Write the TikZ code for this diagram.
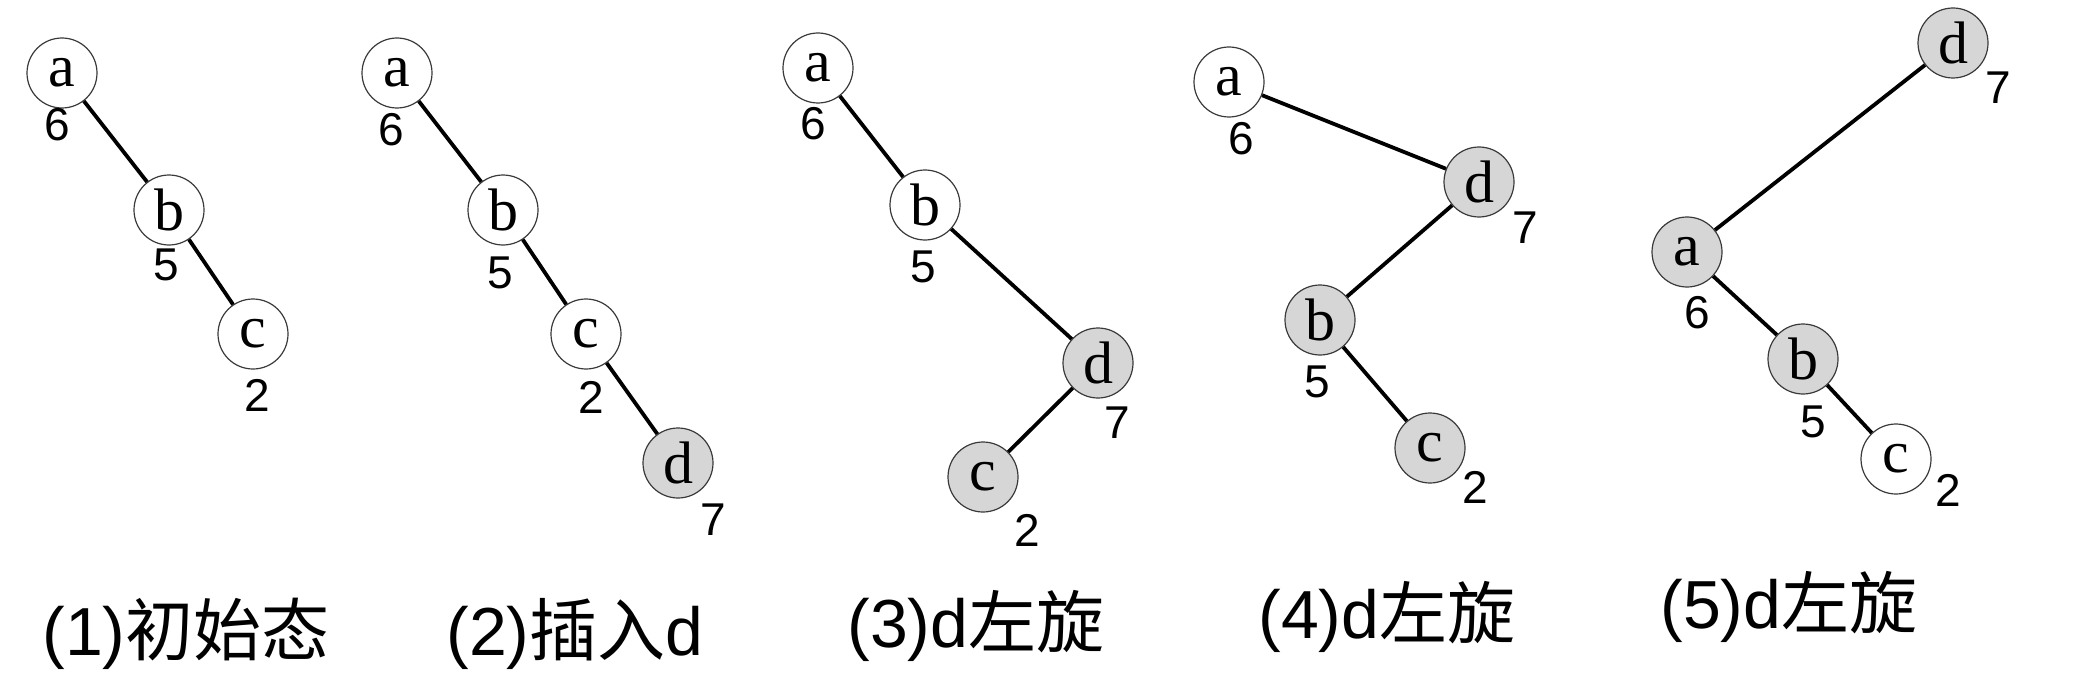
\documentclass[tikz,border=0pt]{standalone}
\usepackage{fontspec}
\setmainfont{Liberation Sans}
\newfontfamily\letterfont{Liberation Serif}
\newfontfamily\cjk{Noto Sans CJK SC}
\definecolor{nodegray}{HTML}{D6D6D6}
\definecolor{rimgray}{HTML}{3A3A3A}
\begin{document}
\begin{tikzpicture}[x=0.5pt,y=-0.5pt,
  tnode/.style={circle,draw=rimgray,line width=0.6pt,minimum size=35pt,inner sep=0pt,fill=white,font=\letterfont\fontsize{30}{30}\selectfont},
  gnode/.style={tnode,fill=nodegray},
  wlabel/.style={inner sep=0pt,font=\fontsize{23}{23}\selectfont},
  edge/.style={line width=1.9pt,black},
  caption/.style={anchor=west,inner sep=0pt,font=\fontsize{34}{34}\selectfont}]
\useasboundingbox (0,0) rectangle (2088,674);
% tree 1
\node[tnode] (t1a) at (62,73) {a};
\node[tnode] (t1b) at (169,210) {b};
\node[tnode] (t1c) at (253,334) {c};
\node[wlabel] (l1a) at (57,125) {6};
\node[wlabel] (l1b) at (166,265) {5};
\node[wlabel] (l1c) at (257,395) {2};
\draw[edge] (t1a) -- (t1b);
\draw[edge] (t1b) -- (t1c);
% tree 2
\node[tnode] (t2a) at (397,73) {a};
\node[tnode] (t2b) at (503,210) {b};
\node[tnode] (t2c) at (586,334) {c};
\node[gnode] (t2d) at (678,463) {d};
\node[wlabel] (l2a) at (391,130) {6};
\node[wlabel] (l2b) at (500,273) {5};
\node[wlabel] (l2c) at (591,397) {2};
\node[wlabel] (l2d) at (713,520) {7};
\draw[edge] (t2a) -- (t2b);
\draw[edge] (t2b) -- (t2c);
\draw[edge] (t2c) -- (t2d);
% tree 3
\node[tnode] (t3a) at (818,68) {a};
\node[tnode] (t3b) at (925,205) {b};
\node[gnode] (t3d) at (1098,363) {d};
\node[gnode] (t3c) at (983,477) {c};
\node[wlabel] (l3a) at (813,124) {6};
\node[wlabel] (l3b) at (923,267) {5};
\node[wlabel] (l3d) at (1117,423) {7};
\node[wlabel] (l3c) at (1027,530) {2};
\draw[edge] (t3a) -- (t3b);
\draw[edge] (t3b) -- (t3d);
\draw[edge] (t3d) -- (t3c);
% tree 4
\node[tnode] (t4a) at (1229,82) {a};
\node[gnode] (t4d) at (1479,182) {d};
\node[gnode] (t4b) at (1320,320) {b};
\node[gnode] (t4c) at (1430,448) {c};
\node[wlabel] (l4a) at (1241,139) {6};
\node[wlabel] (l4d) at (1525,228) {7};
\node[wlabel] (l4b) at (1317,382) {5};
\node[wlabel] (l4c) at (1475,487) {2};
\draw[edge] (t4a) -- (t4d);
\draw[edge] (t4d) -- (t4b);
\draw[edge] (t4b) -- (t4c);
% tree 5
\node[gnode] (t5d) at (1953,43) {d};
\node[gnode] (t5a) at (1687,252) {a};
\node[gnode] (t5b) at (1803,359) {b};
\node[tnode] (t5c) at (1896,459) {c};
\node[wlabel] (l5d) at (1998,88) {7};
\node[wlabel] (l5a) at (1697,313) {6};
\node[wlabel] (l5b) at (1813,422) {5};
\node[wlabel] (l5c) at (1948,490) {2};
\draw[edge] (t5d) -- (t5a);
\draw[edge] (t5a) -- (t5b);
\draw[edge] (t5b) -- (t5c);
% captions
\node[caption] (c1) at (42,634) {(1){\cjk 初始态}};
\node[caption] (c2) at (446,634) {(2){\cjk 插入}d};
\node[caption] (c3) at (847,626) {(3)d{\cjk 左旋}};
\node[caption] (c4) at (1258,617) {(4)d{\cjk 左旋}};
\node[caption] (c5) at (1660,607) {(5)d{\cjk 左旋}};
\end{tikzpicture}
\end{document}
